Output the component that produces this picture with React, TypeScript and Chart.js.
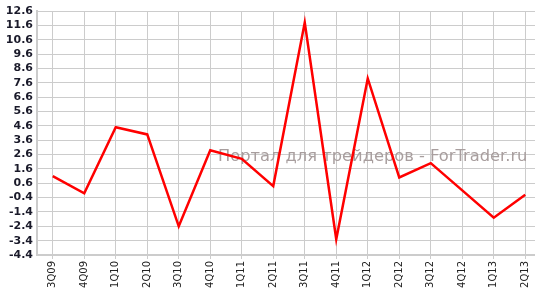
import React, { useEffect, useRef } from "react";
import { Chart, registerables } from "chart.js";

Chart.register(...registerables);

const categories = ["3Q09", "4Q09", "1Q10", "2Q10", "3Q10", "4Q10", "1Q11", "2Q11", "3Q11", "4Q11", "1Q12", "2Q12", "3Q12", "4Q12", "1Q13", "2Q13"];
const values = [1.1, -0.1, 4.5, 4.0, -2.4, 2.9, 2.3, 0.4, 11.8, -3.3, 7.9, 1.0, 2.0, 0.1, -1.8, -0.2];
const yMin = -4.4;
const yMax = 12.6;
const yStep = 1;
const watermark = "Портал для трейдеров - ForTrader.ru";

const watermarkPlugin = {
  id: "watermark",
  beforeDatasetsDraw(chart: any) {
    const ctx = chart.ctx;
    ctx.save();
    ctx.font = "16.3px 'DejaVu Sans'";
    ctx.fillStyle = "#a89e9e";
    ctx.textAlign = "left";
    ctx.textBaseline = "alphabetic";
    ctx.fillText(watermark, 218, 161);
    ctx.restore();
  },
};

export default function App() {
  const ref = useRef<HTMLCanvasElement>(null);
  useEffect(() => {
    document.body.style.margin = "0";
    const chart = new Chart(ref.current!, {
      type: "line",
      data: {
        labels: categories,
        datasets: [
          {
            data: values,
            borderColor: "#ff0000",
            borderWidth: 2.5,
            pointRadius: 0,
            tension: 0,
            fill: false,
          },
        ],
      },
      options: {
        animation: false,
        responsive: false,
        maintainAspectRatio: false,
        layout: { padding: { top: 11, right: 0, left: 0, bottom: 0 } },
        plugins: { legend: { display: false }, tooltip: { enabled: false } },
        scales: {
          x: {
            offset: true,
            grid: { color: "#cccccc", lineWidth: 1, offset: false, drawTicks: true, tickLength: 4 },
            border: { color: "#cccccc", width: 2 },
            ticks: {
              maxRotation: 90,
              minRotation: 90,
              autoSkip: false,
              padding: 2,
              color: "#222222",
              font: { family: "'DejaVu Sans'", size: 10 },
            },
            afterFit(scale: any) {
              scale.height = 33;
            },
          },
          y: {
            min: yMin,
            max: yMax,
            grid: { color: "#cccccc", lineWidth: 1, drawTicks: false },
            border: { color: "#cccccc", width: 2 },
            ticks: {
              stepSize: yStep,
              autoSkip: false,
              padding: 4,
              color: "#1a1a2a",
              font: { family: "'DejaVu Sans'", size: 11, weight: "bold" },
              callback: (v: any) => Number(v).toFixed(1),
            },
            afterFit(scale: any) {
              scale.width = 37;
            },
          },
        },
      },
      plugins: [watermarkPlugin],
    });
    return () => chart.destroy();
  }, []);
  return (
    <div style={{ position: "absolute", left: 0, top: 0, width: 535, height: 288, overflow: "hidden", background: "#fff" }}>
      <canvas ref={ref} width={541} height={288} style={{ display: "block" }} />
    </div>
  );
}
